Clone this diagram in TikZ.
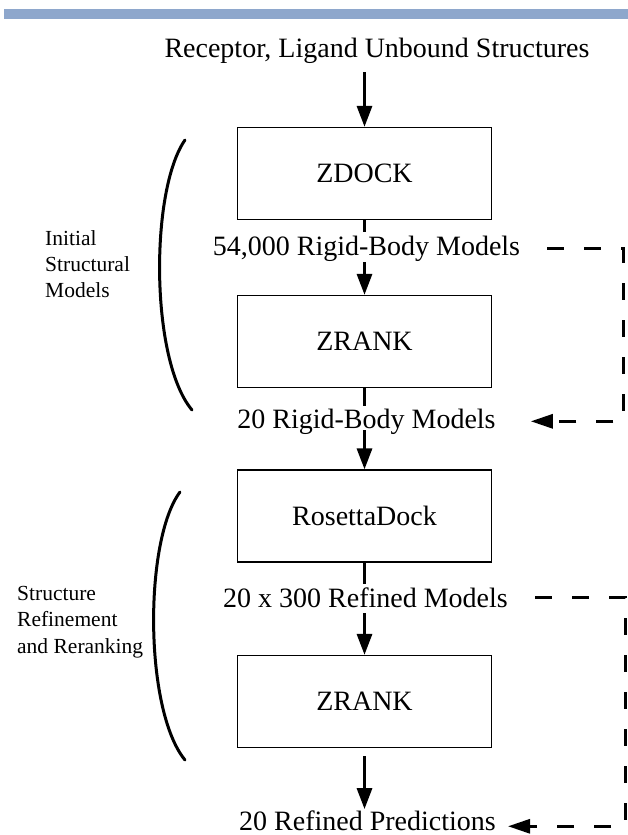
\documentclass[tikz,border=0pt]{standalone}
\usepackage{fontspec}
\setmainfont{Liberation Serif}
\usetikzlibrary{arrows.meta}
\definecolor{barblue}{RGB}{142,167,204}
\begin{document}
\begin{tikzpicture}[x=1pt,y=-1pt,
  every node/.style={font=\fontsize{28}{33}\selectfont},
  procbox/.style={draw, line width=1.3pt, minimum width=254pt, minimum height=92pt, inner sep=0pt},
  lbl/.style={inner sep=0pt, anchor=base},
  side/.style={inner sep=0pt, anchor=north west, align=left, font=\fontsize{21.5}{26.3}\selectfont},
  arr/.style={line width=3.2pt, -{Triangle[length=21pt,width=15pt]}},
  seg/.style={line width=3.2pt},
  fb/.style={line width=3pt, dash pattern=on 17pt off 20pt, -{Triangle[length=22pt,width=14pt]}},
  brace/.style={line width=3pt, line cap=round}
]
\useasboundingbox (0,0) rectangle (628,835);
\fill[barblue] (4,9) rectangle (628,19);

\node[lbl] (title) at (377,57) {Receptor, Ligand Unbound Structures};
\node[procbox] (zdock) at (364.5,173.5) {ZDOCK};
\node[lbl] (l1) at (366.5,255) {54,000 Rigid-Body Models};
\node[procbox] (zrank1) at (364.5,341.5) {ZRANK};
\node[lbl] (l2) at (366.5,428) {20 Rigid-Body Models};
\node[procbox] (rosetta) at (364.5,516) {RosettaDock};
\node[lbl] (l3) at (365.5,607) {20 x 300 Refined Models};
\node[procbox] (zrank2) at (364.5,701.5) {ZRANK};
\node[lbl] (l4) at (367.5,830) {20 Refined Predictions};

\node[side] (s1) at (45,230) {Initial\\Structural\\Models};
\node[side] (s2) at (17,586) {Structure\\Refinement\\and Reranking};

\draw[arr] ([yshift=-9pt]title.south -| zdock.north) -- (zdock.north);
\draw[seg] (zdock.south) -- ([yshift=3pt]l1.north -| zdock.south);
\draw[arr] ([yshift=-1pt]l1.south -| zrank1.north) -- (zrank1.north);
\draw[seg] (zrank1.south) -- ([yshift=2pt]l2.north -| zrank1.south);
\draw[arr] ([yshift=-2pt]l2.base -| rosetta.north) -- (rosetta.north);
\draw[seg] (rosetta.south) -- ([yshift=3pt]l3.north -| rosetta.south);
\draw[arr] ([yshift=-6pt]l3.base -| zrank2.north) -- (zrank2.north);
\draw[arr] ([yshift=-8pt]zrank2.south) -- ([yshift=1pt]l4.north -| zrank2.south);

\draw[fb] ([xshift=27pt]l1.east) -- ++(76,0) |- ([xshift=35pt]l2.east);
\draw[fb] ([xshift=27pt]l3.east) -- ++(90,0) |- ([xshift=12pt,yshift=-6pt]l4.east);

\draw[brace] (185,140) .. controls (150,190) and (150,360) .. (192,410);
\draw[brace] (180,492) .. controls (144,540) and (144,710) .. (185,760);
\end{tikzpicture}
\end{document}
